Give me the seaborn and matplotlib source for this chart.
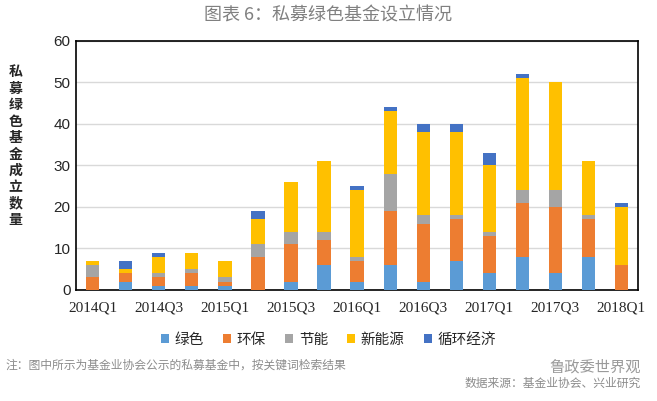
import numpy as np
import pandas as pd
import seaborn as sns
import matplotlib.pyplot as plt
from matplotlib.patches import Patch

quarters = ["2014Q1", "2014Q2", "2014Q3", "2014Q4", "2015Q1", "2015Q2",
            "2015Q3", "2015Q4", "2016Q1", "2016Q2", "2016Q3", "2016Q4",
            "2017Q1", "2017Q2", "2017Q3", "2017Q4", "2018Q1"]
categories = ["绿色", "环保", "节能", "新能源", "循环经济"]
green = [0, 2, 1, 1, 1, 0, 2, 6, 2, 6, 2, 7, 4, 8, 4, 8, 0]
env = [3, 2, 2, 3, 1, 8, 9, 6, 5, 13, 14, 10, 9, 13, 16, 9, 6]
saving = [3, 0, 1, 1, 1, 3, 3, 2, 1, 9, 2, 1, 1, 3, 4, 1, 0]
new_energy = [1, 1, 4, 4, 4, 6, 12, 17, 16, 15, 20, 20, 16, 27, 26, 13, 14]
circular = [0, 2, 1, 0, 0, 2, 0, 0, 1, 1, 2, 2, 3, 1, 0, 0, 1]
colors = ["#5B9BD5", "#ED7D31", "#A5A5A5", "#FFC000", "#4472C4"]

sns.set_style("white")
plt.rcParams["font.family"] = ["Noto Sans CJK SC", "DejaVu Sans"]

fig, ax = plt.subplots(figsize=(6.57, 4.01), dpi=100)
fig.subplots_adjust(left=0.116, right=0.971, top=0.898, bottom=0.277)

series = [green, env, saving, new_energy, circular]
bottom = np.zeros(len(quarters))
for name, vals, c in zip(categories, series, colors):
    sns.barplot(x=quarters, y=vals, bottom=bottom, color=c, width=0.4,
                order=quarters, ax=ax, saturation=1, linewidth=0, zorder=3)
    bottom = bottom + np.array(vals)

ax.set_ylim(0, 60)
ax.set_xlim(-0.5, len(quarters) - 0.5)
ax.set_yticks(range(0, 61, 10))
ax.set_yticklabels([str(v) for v in range(0, 61, 10)], family="Liberation Sans", fontsize=11)
ax.yaxis.grid(True, color="#d9d9d9", linewidth=1, zorder=0)
ax.set_axisbelow(True)

ax.set_xticks(range(0, len(quarters), 2))
ax.set_xticklabels(quarters[::2], family="Liberation Serif", fontsize=11)
ax.set_xticks(np.arange(-0.5, len(quarters), 1), minor=True)
ax.tick_params(axis="x", which="major", length=0, pad=8)
ax.tick_params(axis="x", which="minor", length=5, width=1, color="black", direction="out")
ax.tick_params(axis="y", length=0, pad=4)
ax.set_xlabel("")

for s in ax.spines.values():
    s.set_visible(True)
    s.set_color("black")
    s.set_linewidth(1.2)

ax.set_ylabel("")
fig.text(0.024, 0.635, "\n".join("私募绿色基金成立数量"), ha="center", va="center",
         fontsize=10, fontweight="bold", linespacing=1.22)

fig.text(0.5, 0.962, "图表 6：私募绿色基金设立情况", ha="center", va="center",
         fontsize=13, color="#808080")

handles = [Patch(facecolor=c, edgecolor="none", label=n) for n, c in zip(categories, colors)]
fig.legend(handles=handles, loc="center", bbox_to_anchor=(0.5, 0.152), ncol=5,
           frameon=False, fontsize=10.5, handlelength=0.55, handleheight=0.55,
           handletextpad=0.4, columnspacing=1.3)

fig.text(0.008, 0.09, "注：图中所示为基金业协会公示的私募基金中，按关键词检索结果",
         fontsize=8.5, color="#8c8c8c", va="center")
fig.text(0.975, 0.085, "鲁政委世界观", fontsize=11, color="#9a9a9a", ha="right", va="center")
fig.text(0.975, 0.045, "数据来源：基金业协会、兴业研究", fontsize=8.5, color="#8c8c8c",
         ha="right", va="center")

fig.savefig("out.png", dpi=100)
